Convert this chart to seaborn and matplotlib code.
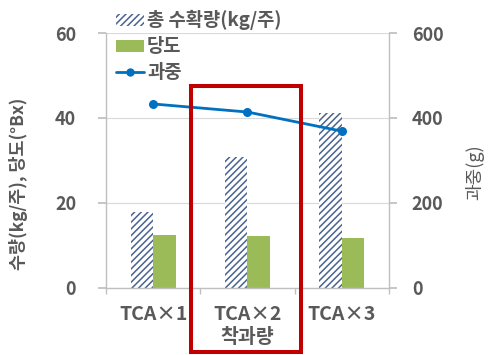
import matplotlib
matplotlib.use("Agg")
import matplotlib.pyplot as plt
import matplotlib.patches as mpatches
from matplotlib.lines import Line2D
import seaborn as sns
import pandas as pd

categories = ["TCA×1", "TCA×2\n착과량", "TCA×3"]
total_yield = [17.9, 30.8, 41.2]      # 총 수확량 (kg/주)
sugar = [12.5, 12.2, 11.8]            # 당도 (°Bx)
fruit_weight = [433, 414, 369]        # 과중 (g)

sns.set_theme(style="white")
plt.rcParams["font.family"] = ["Noto Sans CJK KR", "DejaVu Sans"]
plt.rcParams["hatch.linewidth"] = 1.1

TEXT = "#595959"
HATCH_C = "#4A6490"
GREEN = "#9BBB59"
BLUE = "#0070C0"
AXIS_C = "#BFBFBF"

df = pd.DataFrame({
    "cat": categories * 2,
    "series": ["총 수확량(kg/주)"] * 3 + ["당도"] * 3,
    "value": total_yield + sugar,
})

fig = plt.figure(figsize=(4.91, 3.55), dpi=100)
ax = fig.add_axes([0.216, 0.189, 0.576, 0.718])

sns.barplot(data=df, x="cat", y="value", hue="series", ax=ax,
            palette=["white", GREEN], width=0.477, gap=0, legend=False,
            saturation=1, errorbar=None)
for p in ax.patches[:3]:
    p.set_facecolor("white")
    p.set_edgecolor(HATCH_C)
    p.set_hatch("/////")
    p.set_linewidth(0)
for p in ax.patches[3:6]:
    p.set_facecolor(GREEN)
    p.set_linewidth(0)

ax.set_xlim(-0.5, 2.5)
ax.set_ylim(0, 60)
ax.set_yticks([0, 20, 40, 60])
ax.yaxis.grid(True, color="#D9D9D9", linewidth=0.8)
ax.set_axisbelow(True)
ax.set_xlabel("")
ax.set_ylabel("수량(kg/주), 당도(°Bx)", color=TEXT, fontsize=12.5,
              fontweight="bold")
ax.yaxis.set_label_coords(-0.275, 0.41)
for s in ["top", "right"]:
    ax.spines[s].set_visible(False)
for s in ["left", "bottom"]:
    ax.spines[s].set_color(AXIS_C)
    ax.spines[s].set_linewidth(1)

ax.set_xticks([0, 1, 2])
ax.set_xticklabels(categories, linespacing=1.3)
ax.set_xticks([-0.5, 0.5, 1.5, 2.5], minor=True)
ax.tick_params(axis="x", which="major", length=0, pad=12, labelsize=14,
               labelcolor=TEXT)
ax.tick_params(axis="x", which="minor", length=4.5, direction="out",
               color=AXIS_C, bottom=True)
ax.tick_params(axis="y", length=5.5, direction="out", color=AXIS_C,
               left=True, labelsize=13, labelcolor=TEXT, pad=16)
for lbl in ax.get_xticklabels() + ax.get_yticklabels():
    lbl.set_fontweight("bold")

ax2 = ax.twinx()
sns.lineplot(x=[0, 1, 2], y=fruit_weight, ax=ax2, color=BLUE, linewidth=2,
             marker="o", markersize=6.5, markeredgewidth=0)
ax2.set_ylim(0, 600)
ax2.set_yticks([0, 200, 400, 600])
ax2.set_ylabel("과중(g)", color=TEXT, fontsize=13, fontweight="medium")
ax2.yaxis.set_label_coords(1.27, 0.455)
for s in ["top", "left", "bottom"]:
    ax2.spines[s].set_visible(False)
ax2.spines["right"].set_color(AXIS_C)
ax2.spines["right"].set_linewidth(1)
ax2.tick_params(axis="y", length=5.5, direction="out", color=AXIS_C,
                right=True, labelsize=13, labelcolor=TEXT, pad=11)
for lbl in ax2.get_yticklabels():
    lbl.set_fontweight("bold")
ax2.set_xlim(-0.5, 2.5)

handles = [
    mpatches.Patch(facecolor="white", edgecolor=HATCH_C, hatch="/////",
                   linewidth=0),
    mpatches.Patch(facecolor=GREEN, linewidth=0),
    Line2D([0], [0], color=BLUE, linewidth=2, marker="o", markersize=5),
]
leg = ax2.legend(handles, ["총 수확량(kg/주)", "당도", "과중"],
                 loc="upper left", bbox_to_anchor=(0.035, 1.09),
                 frameon=False, fontsize=13.5, labelspacing=0.37,
                 handlelength=1.5, handleheight=0.6, handletextpad=0.15,
                 borderaxespad=0, borderpad=0)
for t in leg.get_texts():
    t.set_color(TEXT)
    t.set_fontweight("bold")

fig.patches.append(mpatches.Rectangle((0.389, 0.0085), 0.224, 0.749,
                                      transform=fig.transFigure,
                                      fill=False, edgecolor="#C00000",
                                      linewidth=2.9, zorder=10))

fig.savefig("out.png", dpi=100)
